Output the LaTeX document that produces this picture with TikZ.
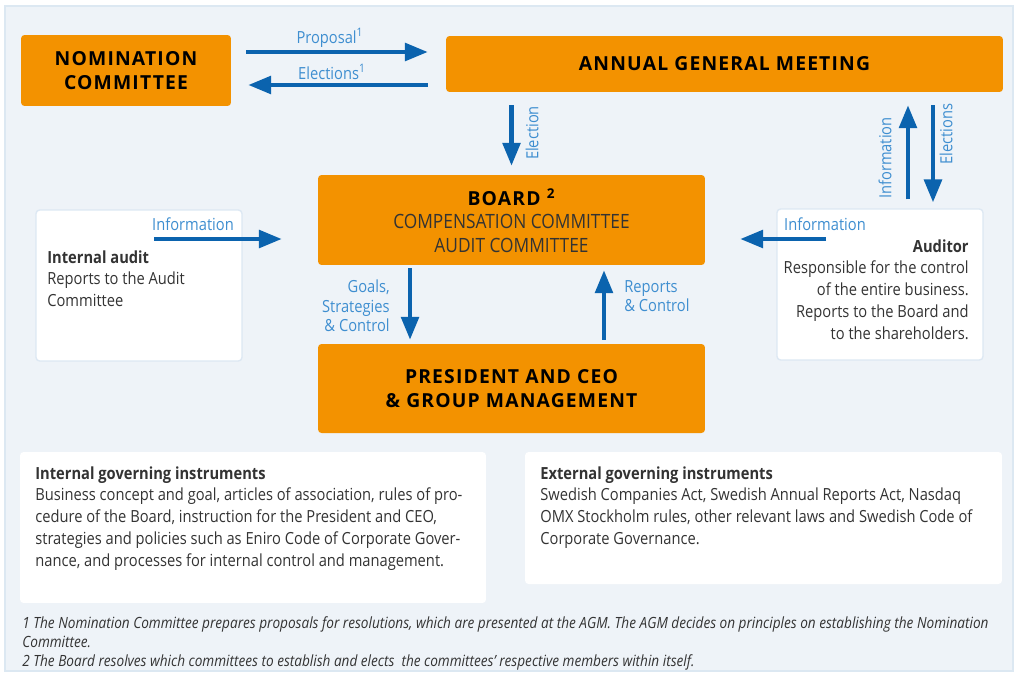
\documentclass[tikz,border=0pt]{standalone}
\usepackage{fontspec}
\setmainfont{Open Sans}[FakeStretch=0.88]
\newfontfamily\headfont{Open Sans}[LetterSpace=6]
\usetikzlibrary{arrows.meta,positioning,calc}
\definecolor{panel}{HTML}{EEF3F8}
\definecolor{panelline}{HTML}{DCE8F2}
\definecolor{boxline}{HTML}{DDE8F3}
\definecolor{govorange}{HTML}{F39200}
\definecolor{flowblue}{HTML}{0B63AE}
\definecolor{labelblue}{HTML}{3E8ED0}
\definecolor{bodygray}{HTML}{333333}
\tikzset{
  orangebox/.style={
    fill=govorange, rounded corners=2pt, inner sep=0pt, align=center
  },
  whitebox/.style={
    draw=boxline, line width=0.8pt, fill=white, rounded corners=2pt, inner sep=0pt
  },
  flowarrow/.style={
    draw=flowblue, line width=2.3pt, -{Triangle[length=13pt,width=10pt]}
  },
  flowlabel/.style={
    text=labelblue, inner sep=0pt, font=\fontsize{9.5}{11}\selectfont
  },
  headtext/.style={font=\headfont\bfseries\fontsize{11}{13.5}\selectfont},
  bodytext/.style={
    text=bodygray, inner sep=0pt, font=\fontsize{9.5}{12.4}\selectfont
  }
}

\begin{document}
\begin{tikzpicture}[x=0.02cm,y=-0.02cm]
  \useasboundingbox (0,0) rectangle (1016,673);
  % backdrop
  \fill[panel,draw=panelline,line width=0.8pt] (5,6) rectangle (1013,671);

  % orange bodies
  \node[orangebox,minimum width=4.2cm,minimum height=1.42cm,headtext] (nomination) at (126,70.5)
    {NOMINATION\\COMMITTEE};
  \node[orangebox,minimum width=11.14cm,minimum height=1.12cm,headtext] (agm) at (724.5,64)
    {ANNUAL GENERAL MEETING};
  \node[orangebox,minimum width=7.74cm,minimum height=1.8cm] (board) at (511.5,220) {};
  \node[headtext,inner sep=0pt] (boardname) at (511.5,197) {BOARD \textsuperscript{2}};
  \node[bodytext,text=black!80,font=\fontsize{11.2}{13.6}\selectfont,align=center] (committees) at (511.5,233.5)
    {COMPENSATION COMMITTEE\\AUDIT COMMITTEE};
  \node[orangebox,minimum width=7.74cm,minimum height=1.78cm,headtext] (ceo) at (511.5,388.5)
    {PRESIDENT AND CEO\\\& GROUP MANAGEMENT};

  % white side boxes
  \node[whitebox,minimum width=4.12cm,minimum height=3.02cm] (intaudit) at (139,285.5) {};
  \node[bodytext,anchor=north west,align=left] (intaudittext) at (47,250)
    {\textbf{Internal audit}\\Reports to the Audit\\Committee};
  \node[whitebox,minimum width=4.12cm,minimum height=3.02cm] (auditor) at (880,284.5) {};
  \node[bodytext,anchor=north east,align=right] (auditortext) at (969,239)
    {\textbf{Auditor}\\Responsible for the control\\of the entire business.\\Reports to the Board and\\to the shareholders.};

  % governing instruments
  \node[whitebox,draw=none,minimum width=9.32cm,minimum height=3.02cm] (intgov) at (253,527.5) {};
  \node[bodytext,anchor=north west,align=left] (intgovtext) at (35,466)
    {\textbf{Internal governing instruments}\\
     Business concept and goal, articles of association, rules of pro-\\
     cedure of the Board, instruction for the President and CEO,\\
     strategies and policies such as Eniro Code of Corporate Gover-\\
     nance, and processes for internal control and management.};
  \node[whitebox,draw=none,minimum width=9.54cm,minimum height=2.64cm] (extgov) at (763.5,518) {};
  \node[bodytext,anchor=north west,align=left] (extgovtext) at (540,466)
    {\textbf{External governing instruments}\\
     Swedish Companies Act, Swedish Annual Reports Act, Nasdaq\\
     OMX Stockholm rules, other relevant laws and Swedish Code of\\
     Corporate Governance.};

  % footnotes
  \node[bodytext,anchor=north west,align=left,font=\itshape\fontsize{8.8}{10.9}\selectfont] (notes) at (22,616)
    {1 The Nomination Committee prepares proposals for resolutions, which are presented at the AGM. The AGM decides on principles on establishing the Nomination\\
     Committee.\\
     2 The Board resolves which committees to establish and elects\ \ the committees' respective members within itself.};

  % nomination <-> AGM
  \draw[flowarrow,shorten <=0.3cm,shorten >=0.36cm]
    ([yshift=0.37cm]nomination.east) -- ([yshift=0.37cm]nomination.east -| agm.west);
  \draw[flowarrow,shorten <=0.36cm,shorten >=0.34cm]
    ([yshift=-0.29cm]nomination.east -| agm.west) -- ([yshift=-0.29cm]nomination.east);
  \node[flowlabel] (proposallbl) at (330,38) {Proposal\textsuperscript{1}};
  \node[flowlabel] (electionslbl) at (332,72) {Elections\textsuperscript{1}};

  % AGM -> board
  \draw[flowarrow,shorten <=0.26cm,shorten >=0.18cm] (agm.south -| board.north) -- (board.north);
  \node[flowlabel,rotate=90] (electionlbl) at (532,133) {Election};

  % AGM <-> auditor
  \draw[flowarrow,shorten <=0.18cm,shorten >=0.26cm]
    ([xshift=0.56cm]auditor.north) -- ([xshift=0.56cm]auditor.north |- agm.south);
  \draw[flowarrow,shorten <=0.26cm,shorten >=0.12cm]
    ([xshift=1.06cm]auditor.north |- agm.south) -- ([xshift=1.06cm]auditor.north);
  \node[flowlabel,rotate=90] (auditinfolbl) at (885,158) {Information};
  \node[flowlabel,rotate=90] (auditelectlbl) at (946,134) {Elections};

  % side boxes -> board
  \coordinate (iainfo) at (154,239);
  \coordinate (auinfo) at (826,239);
  \draw[flowarrow,shorten >=0.72cm] (iainfo) -- (iainfo -| board.west);
  \draw[flowarrow,shorten >=0.7cm] (auinfo) -- (auinfo -| board.east);
  \node[flowlabel] (iainfolbl) at (193,224) {Information};
  \node[flowlabel] (auinfolbl) at (825,224) {Information};

  % board <-> management
  \draw[flowarrow,shorten <=0.06cm,shorten >=0.08cm]
    ([xshift=-2.03cm]board.south) -- ([xshift=-2.03cm]ceo.north);
  \draw[flowarrow,shorten <=0.08cm,shorten >=0.1cm]
    ([xshift=1.85cm]ceo.north) -- ([xshift=1.85cm]board.south);
  \node[flowlabel,anchor=east,align=right,font=\fontsize{9.5}{11}\selectfont] (goalslbl) at (390,306)
    {Goals,\\Strategies\\\& Control};
  \node[flowlabel,anchor=west,align=left,font=\fontsize{9.5}{11}\selectfont] (reportslbl) at (624,296)
    {Reports\\\& Control};
\end{tikzpicture}
\end{document}
